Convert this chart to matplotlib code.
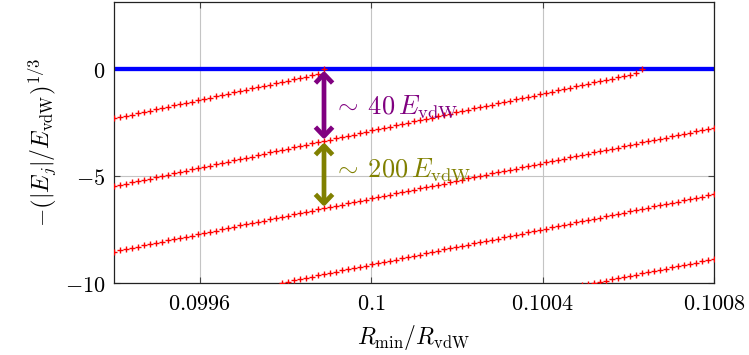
import numpy as np
import matplotlib
matplotlib.use('Agg')
import matplotlib.pyplot as plt

# --- Data ---
# sampling grid of R_min/R_vdW (one marker per grid point)
R_FIRST = 0.0994
R_LAST = 0.1008
N_SAMPLES = 101

# -(|E_j|/E_vdW)^(1/3) of each bound level; LEVEL_START is the grid index of the first value
LEVEL_START = [0, 0, 0, 28, 78]

LEVEL_1 = [-2.30, -2.24, -2.18, -2.12, -2.06, -2.00, -1.93, -1.87, -1.81, -1.75,
           -1.69, -1.63, -1.57, -1.51, -1.45, -1.39, -1.33, -1.26, -1.20, -1.14,
           -1.08, -1.02, -0.96, -0.90, -0.84, -0.78, -0.72, -0.66, -0.59, -0.53,
           -0.47, -0.41, -0.35, -0.29, -0.23, 0.00]

LEVEL_2 = [-5.47, -5.41, -5.35, -5.29, -5.23, -5.17, -5.11, -5.05, -4.99, -4.92,
           -4.86, -4.80, -4.74, -4.68, -4.62, -4.56, -4.50, -4.44, -4.38, -4.32,
           -4.26, -4.20, -4.14, -4.08, -4.02, -3.96, -3.89, -3.83, -3.77, -3.71,
           -3.65, -3.59, -3.53, -3.47, -3.41, -3.35, -3.29, -3.23, -3.17, -3.11,
           -3.05, -2.99, -2.92, -2.86, -2.80, -2.74, -2.68, -2.62, -2.56, -2.50,
           -2.44, -2.38, -2.32, -2.26, -2.20, -2.14, -2.08, -2.02, -1.95, -1.89,
           -1.83, -1.77, -1.71, -1.65, -1.59, -1.53, -1.47, -1.41, -1.35, -1.29,
           -1.23, -1.17, -1.11, -1.05, -0.99, -0.92, -0.86, -0.80, -0.74, -0.68,
           -0.62, -0.56, -0.50, -0.44, -0.38, -0.32, -0.26, -0.20, 0.00]

LEVEL_3 = [-8.52, -8.46, -8.40, -8.35, -8.29, -8.23, -8.17, -8.11, -8.06, -8.00,
           -7.94, -7.88, -7.83, -7.77, -7.71, -7.65, -7.59, -7.54, -7.48, -7.42,
           -7.36, -7.30, -7.25, -7.19, -7.13, -7.07, -7.01, -6.96, -6.90, -6.84,
           -6.78, -6.73, -6.67, -6.61, -6.55, -6.49, -6.44, -6.38, -6.32, -6.26,
           -6.20, -6.15, -6.09, -6.03, -5.97, -5.91, -5.86, -5.80, -5.74, -5.68,
           -5.63, -5.57, -5.51, -5.45, -5.39, -5.34, -5.28, -5.22, -5.16, -5.10,
           -5.05, -4.99, -4.93, -4.87, -4.81, -4.76, -4.70, -4.64, -4.58, -4.53,
           -4.47, -4.41, -4.35, -4.29, -4.24, -4.18, -4.12, -4.06, -4.00, -3.95,
           -3.89, -3.83, -3.77, -3.71, -3.66, -3.60, -3.54, -3.48, -3.42, -3.37,
           -3.31, -3.25, -3.19, -3.14, -3.08, -3.02, -2.96, -2.90, -2.85, -2.79,
           -2.73]

LEVEL_4 = [-9.98, -9.92, -9.86, -9.81, -9.75, -9.69, -9.63, -9.58, -9.52, -9.46,
           -9.40, -9.35, -9.29, -9.23, -9.17, -9.12, -9.06, -9.00, -8.94, -8.89,
           -8.83, -8.77, -8.71, -8.66, -8.60, -8.54, -8.48, -8.42, -8.37, -8.31,
           -8.25, -8.19, -8.14, -8.08, -8.02, -7.96, -7.91, -7.85, -7.79, -7.73,
           -7.68, -7.62, -7.56, -7.50, -7.45, -7.39, -7.33, -7.27, -7.22, -7.16,
           -7.10, -7.04, -6.98, -6.93, -6.87, -6.81, -6.75, -6.70, -6.64, -6.58,
           -6.52, -6.47, -6.41, -6.35, -6.29, -6.24, -6.18, -6.12, -6.06, -6.01,
           -5.95, -5.89, -5.83]

LEVEL_5 = [-10.09, -10.04, -9.98, -9.92, -9.87, -9.81, -9.76, -9.70, -9.65, -9.59,
           -9.54, -9.48, -9.43, -9.37, -9.31, -9.26, -9.20, -9.15, -9.09, -9.04,
           -8.98, -8.93, -8.87]

LEVELS = [LEVEL_1, LEVEL_2, LEVEL_3, LEVEL_4, LEVEL_5]

THRESHOLD = 0.0

XTICKS = [0.0996, 0.1, 0.1004, 0.1008]
XTICK_LABELS = ['0.0996', '0.1', '0.1004', '0.1008']
YTICKS = [-10, -5, 0]
YTICK_LABELS = ['-10', '-5', '0']

# arrows sit where the top level reaches the threshold
ARROW_INDEX = 35
ARROW_TEXT = [r'$\sim\:40\,E_{\rm vdW}$', r'$\sim\:200\,E_{\rm vdW}$']
ARROW_TEXT_Y = [-2.05, -5.03]

PURPLE = '#800080'
OLIVE = '#808000'

plt.rcParams['mathtext.fontset'] = 'cm'
plt.rcParams['font.family'] = ['DejaVu Serif']


def main():
    r_grid = np.linspace(R_FIRST, R_LAST, N_SAMPLES)

    fig = plt.figure(figsize=(7.49, 3.55), dpi=100)
    ax = fig.add_axes([0.1522, 0.202, 0.9533 - 0.1522, 0.9944 - 0.202])

    ax.axhline(THRESHOLD, color='#0000ff', lw=3.1, zorder=2)

    for start, level in zip(LEVEL_START, LEVELS):
        xs = r_grid[start:start + len(level)]
        ax.plot(xs, level, linestyle='none', marker='+', color='#ff0000',
                markersize=4.6, markeredgewidth=1.0, zorder=3)

    # energy gaps between neighbouring levels
    x_arrow = r_grid[ARROW_INDEX]
    ends = [THRESHOLD,
            LEVEL_2[ARROW_INDEX - LEVEL_START[1]],
            LEVEL_3[ARROW_INDEX - LEVEL_START[2]]]
    for k, color in enumerate([PURPLE, OLIVE]):
        ax.annotate('', xy=(x_arrow, ends[k + 1]), xytext=(x_arrow, ends[k]),
                    arrowprops=dict(arrowstyle='<->,head_length=0.65,head_width=0.62',
                                    color=color, lw=3.4, shrinkA=1, shrinkB=1,
                                    mutation_scale=10, capstyle='butt'),
                    zorder=4)
        ax.text(x_arrow + 0.00002, ARROW_TEXT_Y[k], ARROW_TEXT[k], color=color,
                fontsize=19, ha='left', va='baseline', zorder=5)

    ax.set_xlim(R_FIRST, R_LAST)
    ax.set_ylim(-10, 3.14)
    ax.set_xticks(XTICKS)
    ax.set_xticklabels(['$' + t + '$' for t in XTICK_LABELS], fontsize=16)
    ax.set_yticks(YTICKS)
    ax.set_yticklabels(['$' + t + '$' for t in YTICK_LABELS], fontsize=16)
    ax.tick_params(direction='in', length=4, width=0.8, color='#444444',
                   top=True, right=True)
    ax.tick_params(axis='x', pad=7)
    ax.tick_params(axis='y', pad=6)
    ax.grid(True, color='#c4c4c4', lw=0.8)
    ax.set_axisbelow(True)
    for s in ax.spines.values():
        s.set_linewidth(0.9)
        s.set_color('#222222')

    ax.set_xlabel(r'$R_{\rm min}/R_{\rm vdW}$', fontsize=17, labelpad=6)
    ax.set_ylabel(r'$-\left(|E_j|/E_{\rm vdW}\right)^{1/3}$', fontsize=17, labelpad=4)

    fig.savefig('out.png', dpi=100)


if __name__ == '__main__':
    main()
